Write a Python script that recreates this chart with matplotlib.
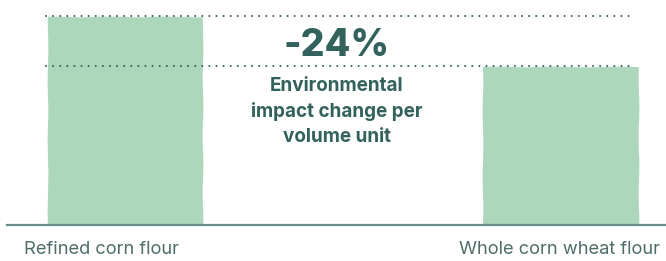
import matplotlib
matplotlib.use("Agg")
import matplotlib.pyplot as plt

# data
categories = ["Refined corn flour", "Whole corn wheat flour"]
values = [100, 76]
change_label = "-24%"
change_text = "Environmental\nimpact change per\nvolume unit"

bar_color = "#acd7ba"
text_color = "#33625c"
label_color = "#4f6e6a"
axis_color = "#6a8e89"

plt.rcParams['font.family'] = ['Inter', 'DejaVu Sans']

fig = plt.figure(figsize=(6.66, 2.61), dpi=100)
ax = fig.add_axes([0, 0, 1, 1])
ax.set_xlim(-0.288, 1.241)
ax.set_ylim(-17.3, 108.2)
ax.axis('off')

x = list(range(len(categories)))
bars = ax.bar(x, values, width=0.356, color=bar_color, zorder=1)
for b in bars:
    b.set_sketch_params(scale=0.35, length=80, randomness=3)

# dotted guide lines at the top of each bar
for v in values:
    ax.plot([-0.183, 1.158], [v + 0.6, v + 0.6], color=text_color, lw=1.5,
            linestyle=(0, (0.01, 3.4)), dash_capstyle='round', zorder=2)

# baseline
ax.plot([-0.272, 1.241], [0, 0], color=axis_color, lw=1.6, zorder=3)

# change annotation
ax.text(0.485, 86, change_label, ha='center', va='center',
        fontsize=27, fontweight='heavy', color=text_color)
ax.text(0.485, 71.3, change_text, ha='center', va='top', fontsize=13.6,
        fontweight='bold', color=text_color, linespacing=1.5)

# category labels
label_x = [-0.055, 0.996]
for lx, name in zip(label_x, categories):
    ax.text(lx, -12, name, ha='center', va='center', fontsize=13.2,
            color=label_color)

fig.savefig("out.png", dpi=100)
